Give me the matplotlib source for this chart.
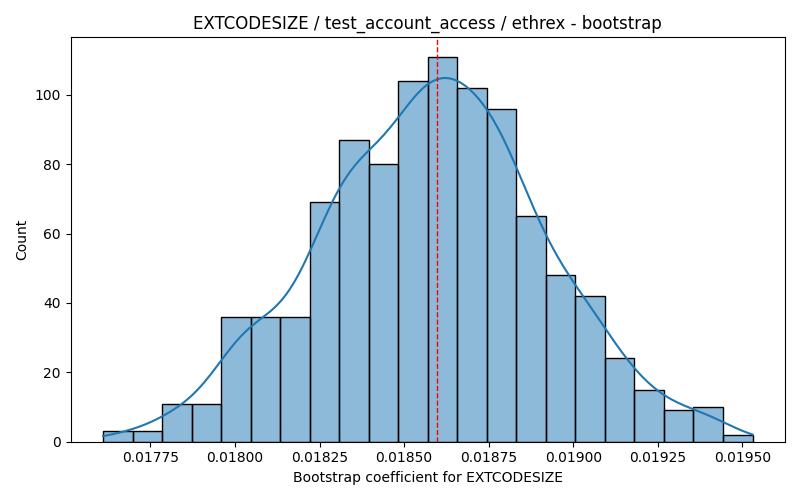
import numpy as np
import matplotlib
matplotlib.use("Agg")
import matplotlib.pyplot as plt

# histogram (22 bins, 1000 bootstrap draws)
bin_lo = 0.017610
bin_hi = 0.019530
counts = [3, 3, 11, 11, 36, 36, 36, 69, 87, 80, 104, 111, 102, 96, 65, 48, 42, 24, 15, 9, 10, 2]
point_estimate = 0.018598

edges = np.linspace(bin_lo, bin_hi, len(counts) + 1)
centers = (edges[:-1] + edges[1:]) / 2
widths = np.diff(edges)

# kde from the binned sample, scaled to counts like seaborn does
sample = np.repeat(centers, counts)
n = len(sample)
# Sheppard correction for the binning
sd = np.sqrt(sample.var(ddof=1) - widths[0] ** 2 / 12)
bw = sd * n ** (-1 / 5)
grid = np.linspace(bin_lo, bin_hi, 200)
dens = np.exp(-0.5 * ((grid[:, None] - sample[None, :]) / bw) ** 2).sum(axis=1)
dens = dens / (n * bw * np.sqrt(2 * np.pi))
kde_counts = dens * n * widths[0]

fig, ax = plt.subplots(figsize=(8, 5), dpi=100)
ax.bar(edges[:-1], counts, width=widths, align="edge",
       facecolor=(0.122, 0.467, 0.706, 0.5), edgecolor="black", linewidth=1)
ax.plot(grid, kde_counts, color="C0", linewidth=1.5)
ax.axvline(point_estimate, color="red", linestyle="--", linewidth=1)

ax.set_title("EXTCODESIZE / test_account_access / ethrex - bootstrap")
ax.set_xlabel("Bootstrap coefficient for EXTCODESIZE")
ax.set_ylabel("Count")
ax.set_xticks([0.01775, 0.01800, 0.01825, 0.01850, 0.01875, 0.01900, 0.01925, 0.01950])
ax.set_xticklabels(["0.01775", "0.01800", "0.01825", "0.01850", "0.01875", "0.01900", "0.01925", "0.01950"])

plt.tight_layout()
plt.savefig("out.png")
